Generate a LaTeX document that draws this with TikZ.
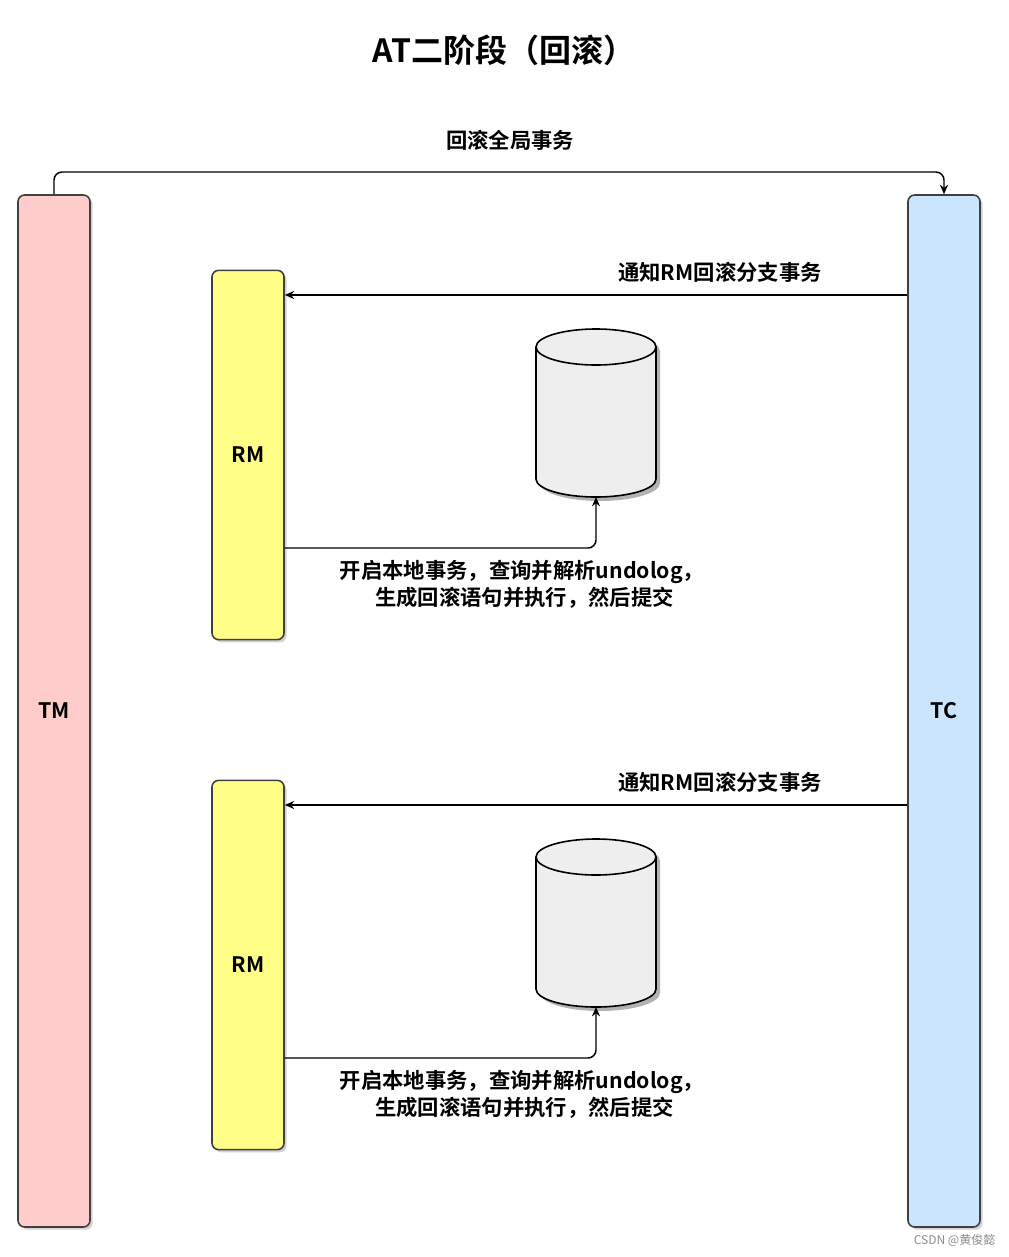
\documentclass[tikz,border=0pt]{standalone}
\usepackage{fontspec}
\setmainfont{Noto Sans CJK SC}[BoldFont={* Bold}]
\usetikzlibrary{shadows,arrows.meta}
\definecolor{tmc}{HTML}{FFCCCC}
\definecolor{tcc}{HTML}{CCE5FF}
\definecolor{rmc}{HTML}{FFFF88}
\definecolor{dbc}{HTML}{EEEEEE}
\begin{document}
\begin{tikzpicture}[x=0.75pt,y=-0.75pt,
  bar/.style={draw=black!75,line width=1.2pt,rounded corners=5pt,drop shadow={opacity=0.35,shadow xshift=2pt,shadow yshift=-2pt},inner sep=0,font=\bfseries\fontsize{16}{18}\selectfont},
  lbl/.style={font=\bfseries\fontsize{16}{20}\selectfont,align=center},
  arr/.style={-{Stealth[length=7pt,width=6pt]},line width=1.1pt,rounded corners=6pt}]
\useasboundingbox (0,0) rectangle (1008,1257);
\node[font=\bfseries\fontsize{24}{26}\selectfont] (title) at (504,50) {AT二阶段（回滚）};
\node[bar,fill=tmc,minimum width=54pt,minimum height=774pt] (tm) at (54,711) {TM};
\node[bar,fill=tcc,minimum width=54pt,minimum height=774pt] (tc) at (944,711) {TC};
\draw[arr] (tm.north) |- (500,172) -| (tc.north);
\node[lbl] (l0) at (510,140) {回滚全局事务};
\foreach \o/\n in {0/a,510/b}{
  \node[bar,fill=rmc,minimum width=54pt,minimum height=277pt] (rm\n) at (248,455+\o) {RM};
  \draw[arr] (tc.west |- 0,295+\o) -- (rm\n.east |- 0,295+\o);
  \node[lbl] (n\n) at (720,272+\o) {通知RM回滚分支事务};
  \begin{scope}[yshift=-\o*0.75pt]
   \fill[black,opacity=0.3] (540,351) -- (540,483) arc[start angle=180,end angle=0,x radius=60,y radius=18] -- (660,351) arc[start angle=0,end angle=-180,x radius=60,y radius=18];
   \draw[fill=dbc,line width=1.2pt] (536,347) -- (536,479) arc[start angle=180,end angle=0,x radius=60,y radius=18] -- (656,347) arc[start angle=0,end angle=-180,x radius=60,y radius=18];
   \draw[line width=1.2pt] (536,347) arc[start angle=180,end angle=0,x radius=60,y radius=18];
  \end{scope}
  \coordinate (db\n) at (596,497+\o);
  \draw[arr] (rm\n.east |- 0,548+\o) -| (db\n);
  \node[lbl] (t\n) at (522,584+\o) {开启本地事务，查询并解析undolog，\\ \ 生成回滚语句并执行，然后提交};
}
\node[font=\fontsize{9}{10}\selectfont,text=black!45,anchor=east] (wm) at (1000,1240) {CSDN @黄俊懿};
\end{tikzpicture}
\end{document}
